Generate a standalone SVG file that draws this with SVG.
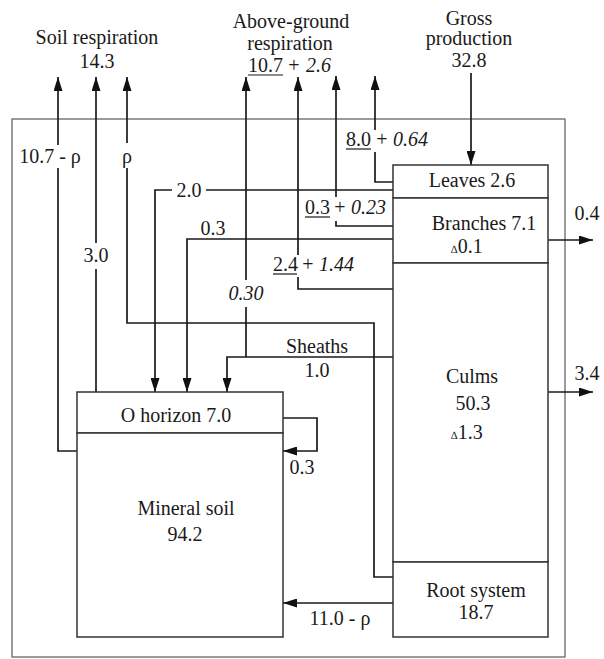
<svg xmlns="http://www.w3.org/2000/svg" width="604" height="659" viewBox="0 0 604 659">
<defs>
<marker id="ah" viewBox="0 0 14 9" refX="14" refY="4.5" markerWidth="14" markerHeight="9" markerUnits="userSpaceOnUse" orient="auto"><path d="M0,0 L14,4.5 L0,9 z" fill="#111"/></marker>
<style>
text{font-family:"Liberation Serif","Times New Roman",serif;font-size:20px;fill:#1a1a1a}
.m{text-anchor:middle}
.i{font-style:italic}
.d{font-size:11px}
.box{fill:#fff;stroke:#333;stroke-width:1.5}
.frame{fill:none;stroke:#666;stroke-width:1.3}
.c{fill:none;stroke:#1a1a1a;stroke-width:1.7}
.a{fill:none;stroke:#1a1a1a;stroke-width:1.7;marker-end:url(#ah)}
.u{stroke:#1a1a1a;stroke-width:1.2}
</style>
</defs>
<rect width="604" height="659" fill="#fff"/>
<rect class="frame" x="12" y="119" width="553" height="538"/>

<g id="connectors">
<path class="c" d="M77,451 H58 V168"/><path class="a" d="M58,145 V77"/>
<path class="c" d="M96,392 V269"/><path class="a" d="M96,243 V77"/>
<path class="c" d="M393,577 H374 V323 H127 V168"/><path class="a" d="M127,143 V77"/>
<path class="c" d="M246,357 V307"/><path class="a" d="M246,280 V77"/>
<path class="c" d="M393,289 H298 V277"/><path class="a" d="M298,255 V77"/>
<path class="c" d="M393,226 H336 V221"/><path class="a" d="M336,197 V76"/>
<path class="c" d="M393,182 H375 V152"/><path class="a" d="M375,130 V76"/>
<path class="a" d="M471,73 V165"/>
<path class="c" d="M393,190 H206"/><path class="a" d="M172,190 H155 V392"/>
<path class="a" d="M393,239 H187 V392"/>
<path class="a" d="M393,357 H227 V392"/>
<path class="a" d="M548,240 H593"/>
<path class="a" d="M548,392 H593"/>
<path class="a" d="M393,603 H283"/>
<path class="a" d="M283,418 H317 V451 H283"/>
</g>

<g id="node-leaves">
<rect class="box" x="393" y="165" width="155" height="33"/>
<text class="m" x="472" y="187">Leaves 2.6</text>
</g>
<g id="node-branches">
<rect class="box" x="393" y="198" width="155" height="65"/>
<text class="m" x="484" y="230">Branches 7.1</text>
<text x="451" y="253"><tspan class="d">∆</tspan>0.1</text>
</g>
<g id="node-culms">
<rect class="box" x="393" y="263" width="155" height="299"/>
<text class="m" x="472" y="383">Culms</text>
<text class="m" x="473" y="410">50.3</text>
<text x="451" y="439"><tspan class="d">∆</tspan>1.3</text>
</g>
<g id="node-root">
<rect class="box" x="393" y="562" width="155" height="75"/>
<text class="m" x="476" y="597">Root system</text>
<text class="m" x="476" y="619">18.7</text>
</g>
<g id="node-ohorizon">
<rect class="box" x="77" y="392" width="206" height="41"/>
<text class="m" x="176" y="422">O horizon 7.0</text>
</g>
<g id="node-mineral">
<rect class="box" x="77" y="433" width="206" height="204"/>
<text class="m" x="186" y="515">Mineral soil</text>
<text class="m" x="185" y="541">94.2</text>
</g>

<g id="labels">
<text class="m" x="97" y="44">Soil respiration</text>
<text class="m" x="97" y="68">14.3</text>
<text class="m" x="291" y="28">Above-ground</text>
<text class="m" x="290" y="50">respiration</text>
<text x="248" y="72">10.7</text><line class="u" x1="248" y1="75" x2="283" y2="75"/>
<text class="m" x="294" y="72">+</text>
<text class="i" x="306" y="72">2.6</text>
<text class="m" x="469" y="25">Gross</text>
<text class="m" x="469" y="45">production</text>
<text class="m" x="469" y="67">32.8</text>

<text class="m" x="50" y="163">10.7 - ρ</text>
<text class="m" x="127" y="163">ρ</text>
<text class="m" x="96" y="262">3.0</text>
<text class="m" x="189" y="197">2.0</text>
<text class="m" x="213" y="235">0.3</text>
<text class="m i" x="246" y="300">0.30</text>
<text x="346" y="146">8.0</text><line class="u" x1="346" y1="149" x2="371" y2="149"/>
<text class="m" x="382" y="146">+</text>
<text class="i" x="393" y="146">0.64</text>
<text x="305" y="214">0.3</text><line class="u" x1="305" y1="217" x2="330" y2="217"/>
<text class="m" x="340" y="214">+</text>
<text class="i" x="351" y="214">0.23</text>
<text x="273" y="271">2.4</text><line class="u" x1="273" y1="274" x2="297" y2="274"/>
<text class="m" x="308" y="271">+</text>
<text class="i" x="319" y="271">1.44</text>
<text class="m" x="317" y="353">Sheaths</text>
<text class="m" x="317" y="377">1.0</text>
<text class="m" x="587" y="220">0.4</text>
<text class="m" x="587" y="380">3.4</text>
<text class="m" x="302" y="474">0.3</text>
<text class="m" x="340" y="625">11.0 - ρ</text>
</g>
</svg>
